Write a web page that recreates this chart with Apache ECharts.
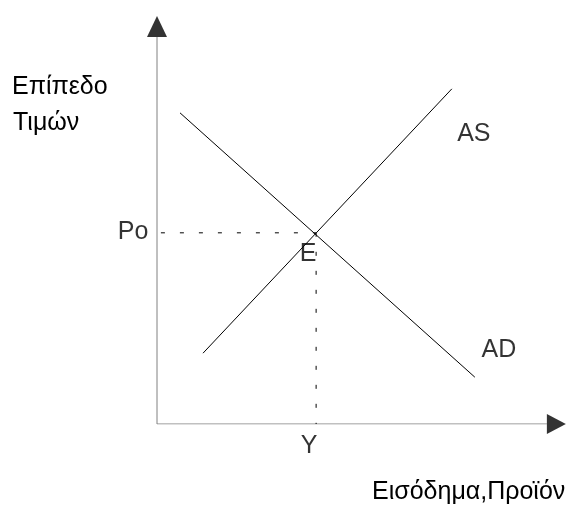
<!DOCTYPE html>
<html>
<head>
<meta charset="utf-8">
<script src="https://cdn.jsdelivr.net/npm/echarts@6/dist/echarts.min.js"></script>
<style>
  html, body { margin: 0; padding: 0; background: #fff; }
  #chart { width: 571px; height: 508px; }
</style>
</head>
<body>
<div id="chart"></div>
<script>
// curves (x = output, y = price level), arbitrary 0..10 units
var adLine = [[0.59, 8.04], [8.15, 1.21]];
var asLine = [[1.18, 1.83], [7.56, 8.66]];
var eqPoint = [4.08, 4.94];
var axisMax = 10;
var yTitle = ['Επίπεδο', 'Τιμών'];
var xTitle = 'Εισόδημα,Προϊόν';

var font = 'Liberation Sans, Arial, sans-serif';
var fsize = 25;

var myChart = echarts.init(document.getElementById('chart'));

function lbl(text, dx, dy) {
  return {
    show: true,
    position: 'inside',
    formatter: text,
    offset: [dx, dy],
    color: '#000',
    fontSize: fsize,
    fontFamily: font
  };
}

var option = {
  animation: false,
  grid: { left: 157, top: 37, width: 390, height: 387 },
  xAxis: { type: 'value', min: 0, max: axisMax, show: false },
  yAxis: { type: 'value', min: 0, max: axisMax, show: false },
  graphic: [
    { type: 'text', left: 12, top: 75, style: { text: yTitle[0], fontSize: fsize, fontFamily: font, fill: '#000' } },
    { type: 'text', left: 13, top: 111, style: { text: yTitle[1], fontSize: fsize, fontFamily: font, fill: '#000' } },
    { type: 'text', left: 372, top: 480, style: { text: xTitle, fontSize: fsize, fontFamily: font, fill: '#000' } }
  ],
  series: [
    // axes
    {
      type: 'line', symbol: 'none', silent: true,
      data: [[0, 0], [axisMax, 0]],
      lineStyle: { color: '#808080', width: 1 }
    },
    {
      type: 'line', symbol: 'none', silent: true,
      data: [[0, 0], [0, axisMax]],
      lineStyle: { color: '#808080', width: 1 }
    },
    // arrow heads
    {
      type: 'scatter', clip: false, silent: true,
      symbol: 'triangle',
      itemStyle: { color: '#000' },
      data: [
        { value: [0, axisMax + 0.27], symbolSize: [20, 21] },
        { value: [axisMax + 0.24, 0], symbolSize: [20, 19], symbolRotate: -90 }
      ]
    },
    // dashed guides
    {
      type: 'line', symbol: 'none', silent: true,
      data: [[0.1, eqPoint[1]], eqPoint],
      lineStyle: { color: '#000', width: 1, type: [4, 15] }
    },
    {
      type: 'line', symbol: 'none', silent: true,
      data: [eqPoint, [eqPoint[0], 0]],
      lineStyle: { color: '#000', width: 1, type: [4, 15] }
    },
    // AD and AS
    {
      type: 'line', symbol: 'none', silent: true,
      data: adLine,
      lineStyle: { color: '#000', width: 1 }
    },
    {
      type: 'line', symbol: 'none', silent: true,
      data: asLine,
      lineStyle: { color: '#000', width: 1 }
    },
    // labels
    {
      type: 'scatter', clip: false, silent: true,
      symbolSize: 1,
      itemStyle: { color: 'transparent' },
      data: [
        { value: [0, eqPoint[1]], label: lbl('Po', -24, -1) },
        { value: [eqPoint[0], 0], label: lbl('Y', -7, 22) },
        { value: eqPoint, label: lbl('E', -8, 21) },
        { value: asLine[1], label: lbl('AS', 22, 45) },
        { value: adLine[1], label: lbl('AD', 24, -27) }
      ]
    }
  ]
};

myChart.setOption(option);
</script>
</body>
</html>
